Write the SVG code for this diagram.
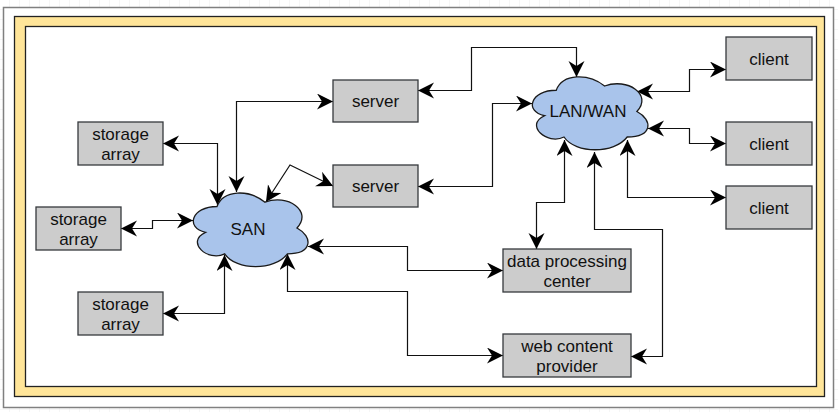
<svg xmlns="http://www.w3.org/2000/svg" width="838" height="412" viewBox="0 0 838 412">
<defs>
<pattern id="grid" width="10" height="10" patternUnits="userSpaceOnUse">
<path d="M10,0 V10 M0,10 H10" fill="none" stroke="#ececec" stroke-width="1"/>
</pattern>
<marker id="arr" markerWidth="18" markerHeight="18" refX="16" refY="8" orient="auto-start-reverse" markerUnits="userSpaceOnUse">
<path d="M0,0 L16,8 L0,16 L5,8 Z" fill="#000"/>
</marker>
</defs>
<style>
.box{fill:#cccccc;stroke:#36393d;stroke-width:1.3}
.cloud{fill:#a9c4eb;stroke:#1a1a1a;stroke-width:1.3}
.lbl{font-family:"Liberation Sans",Arial,sans-serif;font-size:17px;fill:#111;text-anchor:middle}
.con path{fill:none;stroke:#111;stroke-width:1.2;marker-start:url(#arr);marker-end:url(#arr)}
</style>
<rect x="0" y="0" width="838" height="412" fill="#fff"/>
<rect x="0" y="0" width="838" height="412" fill="url(#grid)"/>
<g id="frame">
<rect x="3.5" y="7.5" width="830" height="400" fill="#fff" stroke="#808080" stroke-width="1.5"/>
<rect x="14.5" y="16.5" width="810" height="380" fill="#ffe599" stroke="#222" stroke-width="1.3"/>
<rect x="25.5" y="26.5" width="791" height="360" fill="#fff" stroke="#222" stroke-width="1.3"/>
</g>
<g id="connectors" class="con">
<path d="M163,143.5 H217.5 V205"/>
<path d="M333,101.5 H236.5 V192"/>
<path d="M333,186 L290,165 L266,202"/>
<path d="M121,228.5 H152.5 V220.5 H193"/>
<path d="M163,313.5 H224.5 V255"/>
<path d="M308,246.5 H407.5 V270.5 H503"/>
<path d="M287.5,254 V291.5 H407.5 V355.5 H503"/>
<path d="M418,90.5 H471.5 V47.5 H576.5 V77"/>
<path d="M418,186.5 H492.5 V103.5 H532"/>
<path d="M637,91.5 H689.5 V69.5 H726"/>
<path d="M648,128.5 H689.5 V143.5 H726"/>
<path d="M627.5,140 V197.5 H726"/>
<path d="M564.5,140 V202.5 H536.5 V249"/>
<path d="M594.5,152 V229.5 H662.5 V356.5 H631"/>
</g>
<g id="san">
<path class="cloud" d="M217,206.5 C191.4,206.5 185,228 205.5,232.3 C185,241.8 208,262.4 224.7,253.8 C236.2,271 274.6,271 287.4,253.8 C313,253.8 313,236.6 297,228 C313,210.8 287.4,193.6 265,202.2 C249,189.3 223.4,189.3 217,206.5 Z"/>
<text class="lbl" x="248" y="235">SAN</text>
</g>
<g id="lanwan">
<path class="cloud" d="M556.25,90.25 C530.45,90.25 524,111.5 544.6,115.75 C524,125.1 547.2,145.5 564,137 C575.6,154 614.3,154 627.2,137 C653,137 653,120 636.9,111.5 C653,94.5 627.2,77.5 604.6,86 C588.5,73.25 562.7,73.25 556.25,90.25 Z"/>
<text class="lbl" x="588" y="117">LAN/WAN</text>
</g>
<g id="storage1">
<rect class="box" x="78" y="122" width="85" height="43"/>
<text class="lbl" x="120.5" y="139.5">storage</text>
<text class="lbl" x="120.5" y="159.5">array</text>
</g>
<g id="storage2">
<rect class="box" x="36" y="207" width="85" height="43"/>
<text class="lbl" x="78.5" y="224.5">storage</text>
<text class="lbl" x="78.5" y="244.5">array</text>
</g>
<g id="storage3">
<rect class="box" x="78" y="292" width="85" height="43"/>
<text class="lbl" x="120.5" y="309.5">storage</text>
<text class="lbl" x="120.5" y="329.5">array</text>
</g>
<g id="server1">
<rect class="box" x="333" y="80" width="85" height="42"/>
<text class="lbl" x="375.5" y="107">server</text>
</g>
<g id="server2">
<rect class="box" x="333" y="165" width="85" height="42"/>
<text class="lbl" x="375.5" y="192">server</text>
</g>
<g id="dpc">
<rect class="box" x="503" y="249" width="128" height="43"/>
<text class="lbl" x="567" y="266.5">data processing</text>
<text class="lbl" x="567" y="286.5">center</text>
</g>
<g id="web">
<rect class="box" x="503" y="334" width="128" height="43"/>
<text class="lbl" x="567" y="351.5">web content</text>
<text class="lbl" x="567" y="371.5">provider</text>
</g>
<g id="client1">
<rect class="box" x="726" y="37" width="86" height="43"/>
<text class="lbl" x="769" y="64.5">client</text>
</g>
<g id="client2">
<rect class="box" x="726" y="122" width="86" height="43"/>
<text class="lbl" x="769" y="149.5">client</text>
</g>
<g id="client3">
<rect class="box" x="726" y="186" width="86" height="43"/>
<text class="lbl" x="769" y="213.5">client</text>
</g>
</svg>
